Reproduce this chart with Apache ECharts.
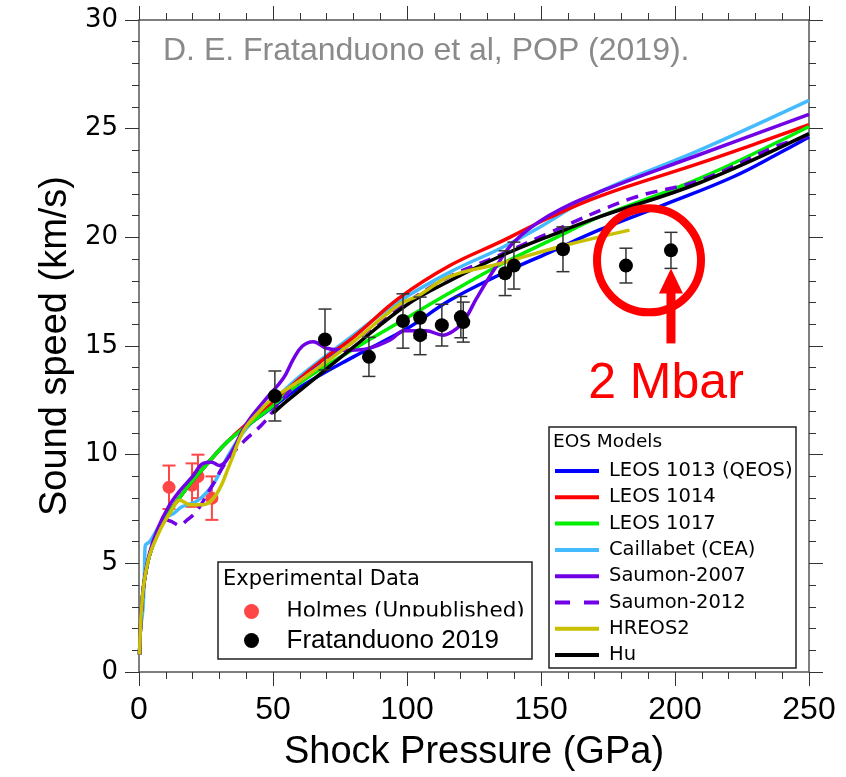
<!DOCTYPE html>
<html>
<head>
<meta charset="utf-8">
<script src="https://cdn.jsdelivr.net/npm/echarts@6/dist/echarts.min.js"></script>
<style>
  html, body { margin: 0; padding: 0; background: #fff; }
  #chart { width: 846px; height: 777px; }
</style>
</head>
<body>
<div id="chart"></div>
<script>
// Axis ranges
const xRange = [0, 250, 50];
const yRange = [0, 30, 5];

// EOS model curves: [shock pressure (GPa), sound speed (km/s)]
const leos1013 = [[0.2,0.8],[0.5,1.9],[1,3.0],[2,4.2],[4,5.4],[7,6.4],[11,7.3],[15,8.0],[20,8.8],[27,9.8],[33,10.6],[40,11.3],[50,12.2],[60,13.1],[80,14.5],[100,15.8],[116,17.1],[135,18.3],[153,19.3],[172,20.35],[197,21.55],[222,22.8],[240,23.95],[250,24.62]];
const leos1014 = [[0.2,0.8],[0.5,1.9],[1,3.0],[2,4.2],[4,5.4],[7,6.4],[11,7.3],[15,8.0],[20,8.8],[27,9.8],[33,10.6],[40,11.4],[50,12.4],[60,13.5],[70,14.5],[80,15.4],[97,17.2],[116,18.7],[135,19.8],[153,20.9],[172,21.9],[209,23.4],[230,24.3],[250,25.18]];
const leos1017 = [[0.2,0.8],[0.5,1.9],[1,3.0],[2,4.2],[4,5.4],[7,6.4],[11,7.3],[15,8.0],[20,8.8],[27,9.8],[33,10.6],[40,11.3],[50,12.25],[60,13.3],[80,14.85],[100,16.3],[116,17.45],[135,18.75],[155,19.95],[172,20.95],[209,22.7],[250,25.1]];
const caillabet = [[0.2,0.8],[0.5,1.9],[1.4,2.8],[2,4.4],[2.3,5.8],[4,6.0],[7,6.6],[10,7.1],[13,7.3],[16,7.6],[22,7.9],[28,8.7],[33,9.9],[40,11.2],[50,12.45],[60,13.6],[80,15.5],[97,17.05],[116,18.4],[135,19.5],[150,20.5],[172,22.1],[209,24.0],[250,26.3]];
const saumon2007 = [[0.2,0.8],[0.5,1.9],[1,3.0],[2,4.2],[4,5.5],[7,6.6],[11,7.6],[15,8.3],[20,9.0],[24,9.6],[27,9.65],[30,9.5],[34,10.0],[40,11.4],[47.6,12.6],[53.8,13.5],[57.6,14.4],[61,15.0],[65,15.2],[70,14.9],[78.7,14.8],[86,14.9],[94,15.3],[99,15.7],[107,15.7],[113.5,15.5],[118.5,15.8],[122,16.3],[126,17.2],[133.5,18.7],[140,19.8],[153,21.0],[172,22.1],[209,23.8],[250,25.66]];
const saumon2012 = [[0.2,0.8],[0.5,1.9],[1,3.0],[2,4.2],[4,5.4],[7,6.4],[10,7.0],[12.5,6.9],[15,6.75],[18,7.0],[21.5,7.4],[26.5,8.4],[32.7,9.7],[39,10.6],[46,11.4],[52,12.3],[60,13.4],[80,15.2],[100,17.0],[116,18.2],[135,19.2],[153,20.2],[184,21.8],[210,22.65],[238,24.2],[250,24.65]];
const hreos2 = [[0.2,0.8],[0.5,1.9],[1,3.0],[2,4.2],[4,5.4],[7,6.3],[9,6.8],[12,7.4],[15.3,7.9],[19,7.7],[24,7.7],[29,8.2],[34,9.6],[39,11.1],[45,12.0],[50,12.6],[60,13.4],[80,15.2],[97,16.9],[104,17.3],[116,18.2],[135,18.8],[158,19.6],[183,20.33]];
const hu = [[50,11.9],[55,12.45],[60,12.95],[80,14.95],[100,16.9],[116,18.0],[135,19.14],[155,20.15],[172,20.95],[209,22.5],[250,24.77]];

// Experimental data
const fratP = [50.7, 69.4, 85.8, 98.5, 104.9, 104.9, 113.0, 120.1, 121.0, 136.6, 139.9, 158.2, 181.7, 198.5];
const fratV = [12.7, 15.3, 14.5, 16.15, 16.3, 15.5, 15.96, 16.33, 16.1, 18.35, 18.7, 19.45, 18.7, 19.4];
const fratErr = [1.15, 1.4, 0.9, 1.25, 0.95, 0.9, 0.96, 0.95, 0.92, 1.03, 1.08, 1.03, 0.8, 0.83];
const holmesP = [11.2, 19.8, 22.0, 27.2];
const holmesV = [8.5, 8.6, 9.0, 8.0];
const holmesErr = [1.0, 1.0, 1.0, 1.0];

const eosNames = ['LEOS 1013 (QEOS)', 'LEOS 1014', 'LEOS 1017', 'Caillabet (CEA)', 'Saumon-2007', 'Saumon-2012', 'HREOS2', 'Hu'];
const eosData = [leos1013, leos1014, leos1017, caillabet, saumon2007, saumon2012, hreos2, hu];
const eosColors = ['#0000ff', '#ff0000', '#00ee00', '#44bbff', '#7000e6', '#7000e6', '#c8c000', '#000000'];
const eosDashed = [false, false, false, false, false, true, false, false];
const drawOrder = [3, 0, 1, 2, 4, 5, 7, 6];

const narrow = "'Liberation Sans Narrow', 'Liberation Sans', Arial, sans-serif";
const sans = "'Liberation Sans', Arial, sans-serif";
const dejavu = "'DejaVu Sans', sans-serif";

const solidIcon = 'path://M0,0H44V4H0Z';
const dashIcon = 'path://M0,0H15V4H0Z M29,0H44V4H29Z';

const chart = echarts.init(document.getElementById('chart'), null, { renderer: 'canvas' });

function curve(i) {
  return {
    name: eosNames[i], type: 'line', data: eosData[i],
    smooth: 0.4, symbol: 'none', showSymbol: false,
    lineStyle: { color: eosColors[i], width: 3.5, type: eosDashed[i] ? [12, 8] : 'solid' },
    itemStyle: { color: eosColors[i] }, z: 3, silent: true
  };
}

function errorBars(name, xs, vs, es, color, width, z) {
  return {
    name: name, type: 'custom', z: z, silent: true,
    data: xs.map((p, i) => [p, vs[i] - es[i], vs[i] + es[i]]),
    encode: { x: 0, y: [1, 2] },
    renderItem: function (params, api) {
      const lo = api.coord([api.value(0), api.value(1)]);
      const hi = api.coord([api.value(0), api.value(2)]);
      const w = 6.5;
      const st = { stroke: color, lineWidth: width };
      return {
        type: 'group', children: [
          { type: 'line', shape: { x1: lo[0], y1: lo[1], x2: hi[0], y2: hi[1] }, style: st },
          { type: 'line', shape: { x1: lo[0] - w, y1: lo[1], x2: lo[0] + w, y2: lo[1] }, style: st },
          { type: 'line', shape: { x1: hi[0] - w, y1: hi[1], x2: hi[0] + w, y2: hi[1] }, style: st }
        ]
      };
    }
  };
}

function axisCommon(extra) {
  return Object.assign({
    type: 'value',
    axisLine: { show: true, onZero: false, lineStyle: { color: '#555', width: 1.5 } },
    axisTick: { show: true, inside: false, length: 14, lineStyle: { color: '#333', width: 1 } },
    minorTick: { show: true, splitNumber: 5, length: 7, lineStyle: { color: '#333', width: 1 } },
    splitLine: { show: false }, minorSplitLine: { show: false }
  }, extra);
}

const series = [];
series.push(errorBars('Holmes error', holmesP, holmesV, holmesErr, '#ff4545', 2, 2));
series.push({
  name: 'Holmes (Unpublished)', type: 'scatter', data: holmesP.map((p, i) => [p, holmesV[i]]),
  symbol: 'circle', symbolSize: 13, itemStyle: { color: '#ff4545', opacity: 1 }, z: 2, silent: true
});
drawOrder.forEach(i => series.push(curve(i)));
series.push(errorBars('Fratanduono error', fratP, fratV, fratErr, '#333', 1.5, 5));
series.push({
  name: 'Fratanduono 2019', type: 'scatter', data: fratP.map((p, i) => [p, fratV[i]]),
  symbol: 'circle', symbolSize: 14, itemStyle: { color: '#000', opacity: 1 }, z: 6, silent: true
});

const option = {
  animation: false,
  backgroundColor: '#fff',
  grid: { left: 139, right: 37, top: 20, bottom: 103 },
  xAxis: [
    axisCommon({
      min: xRange[0], max: xRange[1], interval: xRange[2], position: 'bottom',
      axisLabel: { margin: 22, fontSize: 32, fontFamily: narrow, color: '#000' },
      name: 'Shock Pressure (GPa)', nameLocation: 'middle', nameGap: 62,
      nameTextStyle: { fontSize: 38, fontFamily: narrow, color: '#000' }
    }),
    axisCommon({
      min: xRange[0], max: xRange[1], interval: xRange[2], position: 'top',
      axisLabel: { show: false }
    })
  ],
  yAxis: [
    axisCommon({
      min: yRange[0], max: yRange[1], interval: yRange[2], position: 'left',
      axisLabel: { margin: 21, fontSize: 26, fontFamily: dejavu, color: '#000' },
      name: 'Sound speed (km/s)', nameLocation: 'middle', nameGap: 64,
      nameTextStyle: { fontSize: 38, fontFamily: sans, color: '#000' }
    }),
    axisCommon({
      min: yRange[0], max: yRange[1], interval: yRange[2], position: 'right',
      axisLabel: { show: false }
    })
  ],
  legend: [
    {
      data: eosNames.map((n, i) => ({ name: n, icon: eosDashed[i] ? dashIcon : solidIcon })),
      orient: 'vertical', left: 555, top: 461, padding: 0,
      itemWidth: 44, itemHeight: 4, itemGap: 6.3, z: 20,
      textStyle: { fontFamily: dejavu, fontSize: 19.5, color: '#000', lineHeight: 20, padding: [0, 0, 0, 5] },
      selectedMode: false
    },
    {
      data: [
        { name: 'Holmes (Unpublished)', icon: 'circle', textStyle: { fontFamily: dejavu, fontSize: 21.5, lineHeight: 15, color: '#000' } },
        { name: 'Fratanduono 2019', icon: 'circle', textStyle: { fontFamily: sans, fontSize: 26, lineHeight: 15, color: '#000' } }
      ],
      orient: 'vertical', left: 244, top: 600.5, padding: 0,
      itemWidth: 58, itemHeight: 15, itemGap: 5, z: 20,
      textStyle: { padding: [0, 0, 0, 1] },
      selectedMode: false
    }
  ],
  graphic: [
    { id: 'eosBox', type: 'rect', z: 10, shape: { x: 549, y: 427, width: 247, height: 241 }, style: { fill: '#fff', stroke: '#222', lineWidth: 1.5 } },
    { id: 'eosTitle', type: 'text', z: 11, x: 553, y: 442, style: { text: 'EOS Models', fontFamily: dejavu, fontSize: 18.5, fill: '#000', verticalAlign: 'middle' } },
    { id: 'expBox', type: 'rect', z: 10, shape: { x: 218, y: 562, width: 314, height: 97 }, style: { fill: '#fff', stroke: '#222', lineWidth: 1.5 } },
    { id: 'expTitle', type: 'text', z: 11, x: 223, y: 580, style: { text: 'Experimental Data', fontFamily: dejavu, fontSize: 21, fill: '#000', verticalAlign: 'middle' } },
    { id: 'expMask', type: 'rect', z: 100, shape: { x: 284, y: 616.5, width: 246, height: 9 }, style: { fill: '#fff' } },
    { id: 'source', type: 'text', z: 11, x: 163, y: 51, style: { text: 'D. E. Fratanduono et al, POP (2019).', fontFamily: sans, fontSize: 32, fill: '#8a8a8a', verticalAlign: 'middle' } }
  ],
  series: series
};

chart.setOption(option);

// "2 Mbar" callout placed in data coordinates
const ring = chart.convertToPixel({ gridIndex: 0 }, [190.3, 18.94]);
const tip = chart.convertToPixel({ gridIndex: 0 }, [198.5, 18.57]);
chart.setOption({
  graphic: [
    { id: 'ring', type: 'circle', z: 30, shape: { cx: ring[0], cy: ring[1], r: 52 }, style: { fill: 'none', stroke: '#ff0000', lineWidth: 8 } },
    { id: 'shaft', type: 'rect', z: 30, shape: { x: tip[0] - 4.5, y: tip[1] + 24, width: 9, height: 51 }, style: { fill: '#ff0000' } },
    { id: 'head', type: 'polygon', z: 30, shape: { points: [[tip[0] - 12, tip[1] + 25], [tip[0] + 12, tip[1] + 25], [tip[0], tip[1]]] }, style: { fill: '#ff0000' } },
    { id: 'mbar', type: 'text', z: 30, x: tip[0] - 5, y: tip[1] + 116, style: { text: '2 Mbar', fontFamily: sans, fontSize: 50, fill: '#ff0000', align: 'center', verticalAlign: 'middle' } }
  ]
});
</script>
</body>
</html>
